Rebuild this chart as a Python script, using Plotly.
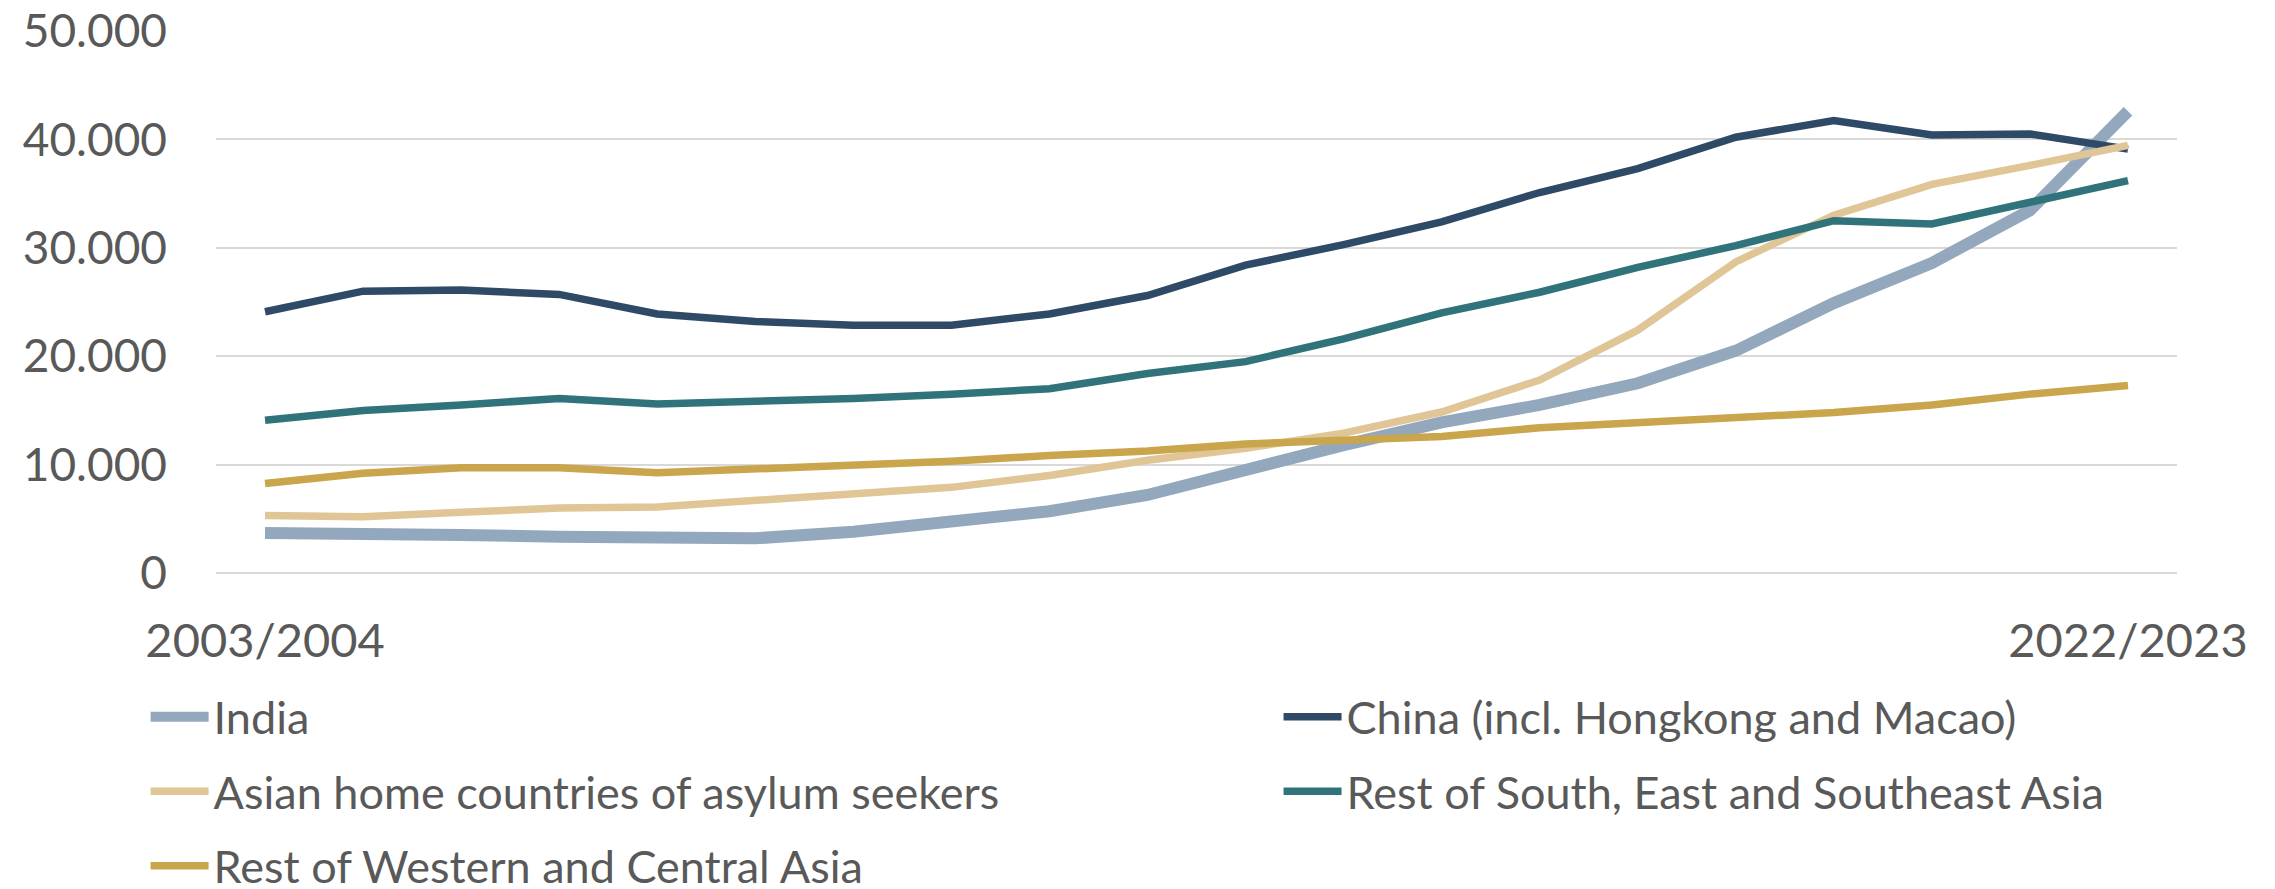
import plotly.graph_objects as go

years = [f"{y}/{y+1}" for y in range(2003, 2023)]

india = [3700, 3700, 3500, 3350, 3150, 3200, 3800, 4800, 5700, 7200,
         9600, 11800, 13900, 15500, 17500, 20500, 24900, 28600, 33450, 42600]
china = [24100, 26000, 26100, 25700, 23900, 23200, 22850, 22850, 23900, 25600,
         28400, 30300, 32400, 35100, 37300, 40200, 41750, 40400, 40500, 39100]
asylum = [5300, 5200, 5600, 6000, 6100, 6700, 7200, 7900, 9000, 10400,
          11500, 12900, 14850, 17800, 22400, 28700, 33000, 35850, 37600, 39450]
rest_se = [14100, 15000, 15500, 16100, 15600, 15800, 16100, 16500, 17000, 18400,
           19500, 21600, 24000, 25900, 28200, 30200, 32500, 32200, 34200, 36200]
rest_wc = [8250, 9200, 9700, 9700, 9250, 9600, 10000, 10300, 10850, 11250,
           11900, 12200, 12600, 13400, 13900, 14450, 14800, 15500, 16500, 17300]

series = [
    ("India", india, "#93a8bc", 12, "legend", "g1"),
    ("China (incl. Hongkong and Macao)", china, "#2e4a66", 7.5, "legend2", "g2"),
    ("Asian home countries of asylum seekers", asylum, "#e0c596", 7.5, "legend", "g3"),
    ("Rest of South, East and Southeast Asia", rest_se, "#31737b", 7.5, "legend2", "g4"),
    ("Rest of Western and Central Asia", rest_wc, "#c9a54c", 7.5, "legend", "g5"),
]

FONT = "Lato, Arial, sans-serif"
TXT = "#595959"

fig = go.Figure()
for name, vals, color, width, leg, grp in series:
    fig.add_trace(go.Scatter(
        x=years, y=vals, mode="lines", name=name,
        line=dict(color=color, width=width),
        legend=leg, legendgroup=grp, hoverinfo="skip",
    ))

fig.update_layout(
    width=2275, height=889,
    margin=dict(l=216, r=98, t=31, b=316, autoexpand=False),
    paper_bgcolor="white", plot_bgcolor="white",
    separators=",.",
    font=dict(family=FONT, size=45, color=TXT),
    showlegend=True,
    legend=dict(
        xref="container", yref="container", x=0.064, y=0.234,
        xanchor="left", yanchor="top", orientation="v",
        tracegroupgap=13, itemwidth=58,
        font=dict(family=FONT, size=45, color=TXT),
        bgcolor="rgba(0,0,0,0)",
    ),
    legend2=dict(
        xref="container", yref="container", x=0.562, y=0.234,
        xanchor="left", yanchor="top", orientation="v",
        tracegroupgap=13, itemwidth=58,
        font=dict(family=FONT, size=45, color=TXT),
        bgcolor="rgba(0,0,0,0)",
    ),
    xaxis=dict(
        type="category", categoryorder="array", categoryarray=years,
        range=[-0.5, len(years) - 0.5],
        tickvals=[years[0], years[-1]], ticktext=[years[0], years[-1]],
        showgrid=False, showline=False, zeroline=False, ticks="",
        ticklabelstandoff=36,
        tickfont=dict(family=FONT, size=47, color=TXT),
    ),
    yaxis=dict(
        range=[0, 50000], dtick=10000, tickformat=",d",
        showgrid=True, gridcolor="#d9d9d9", gridwidth=1.5,
        zeroline=True, zerolinecolor="#d9d9d9", zerolinewidth=1.5,
        showline=False, ticks="", ticklabelstandoff=48,
        tickfont=dict(family=FONT, size=46, color=TXT),
    ),
)

fig.write_html("out.html")
